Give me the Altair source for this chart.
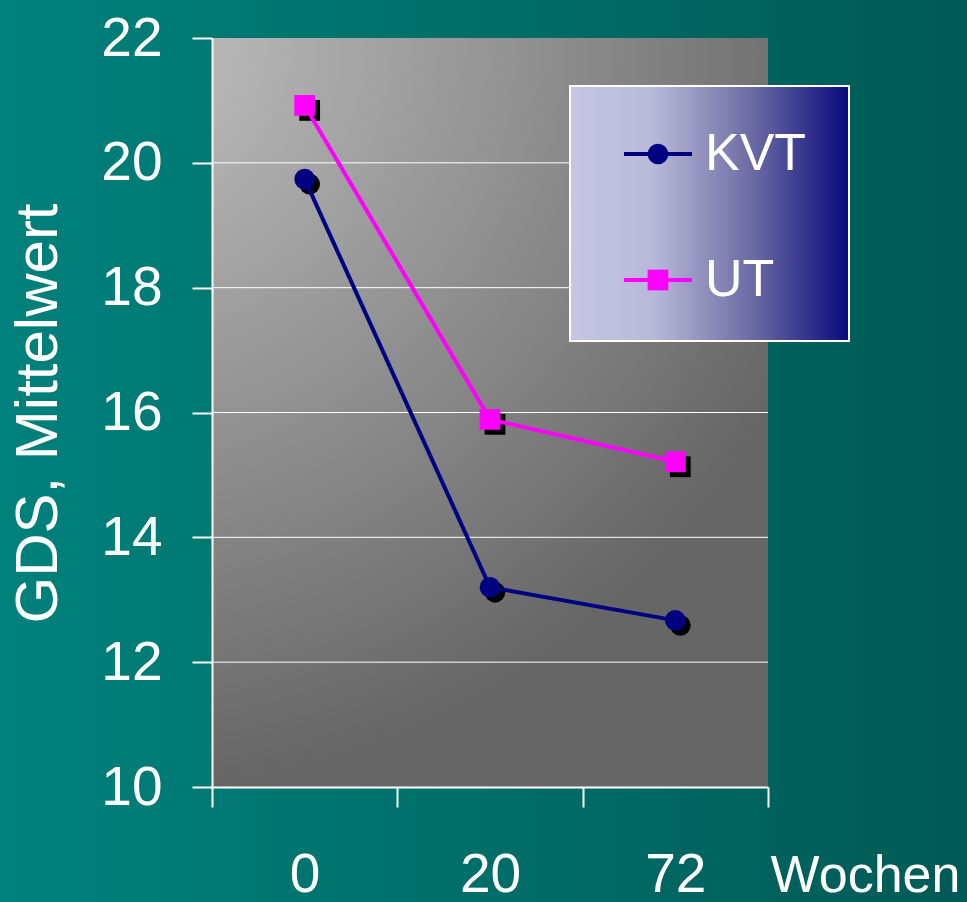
import altair as alt
import pandas as pd

# GDS mean scores per treatment group over time
weeks = ["0", "20", "72"]
series_names = ["KVT", "UT"]
kvt_values = [19.74, 13.20, 12.67]
ut_values = [20.92, 15.89, 15.21]
y_ticks = [10, 12, 14, 16, 18, 20, 22]
grid_values = [12, 14, 16, 18, 20]

series_colors = ["#000080", "#ff00ff"]
series_shapes = ["circle", "square"]
FONT = "Liberation Sans"

W, H = 556, 749
PAD = {"left": 212, "top": 38, "right": 199, "bottom": 115}

rows = []
for name, vals in zip(series_names, [kvt_values, ut_values]):
    for w, v in zip(weeks, vals):
        rows.append({"Woche": w, "Gruppe": name, "GDS": v})
df = pd.DataFrame(rows)
one = pd.DataFrame({"k": [0]})
grid_df = pd.DataFrame({"GDS": grid_values})

x_enc = alt.X(
    "Woche:N",
    sort=weeks,
    scale=alt.Scale(type="band", paddingInner=0, paddingOuter=0),
    axis=alt.Axis(
        title="Wochen",
        titleX=653, titleY=88, titleAlign="center", titleBaseline="middle",
        titleFont=FONT, titleFontSize=52, titleFontWeight="normal", titleColor="white",
        labelAngle=0, labelFont=FONT, labelFontSize=55, labelColor="white",
        labelBaseline="middle", labelPadding=67,
        tickBand="extent", tickSize=20, tickWidth=2, tickColor="white",
        domainColor="white", domainWidth=2, grid=False, zindex=1,
    ),
)
y_axis = alt.Axis(
    values=y_ticks,
    title="GDS, Mittelwert",
    titleX=-174, titleY=375, titleAngle=270, titleAlign="center", titleBaseline="middle",
    titleFont=FONT, titleFontSize=60, titleFontWeight="normal", titleColor="white",
    labelFont=FONT, labelFontSize=55, labelColor="white", labelPadding=30,
    tickSize=20, tickWidth=2, tickColor="white",
    domainColor="white", domainWidth=2, grid=False, zindex=1,
)
y_scale = alt.Scale(domain=[10, 22], nice=False, zero=False)
y_enc = alt.Y("GDS:Q", scale=y_scale, axis=y_axis)

color_scale = alt.Scale(domain=series_names, range=series_colors)
shape_scale = alt.Scale(domain=series_names, range=series_shapes)

# teal backdrop across the whole canvas
backdrop = alt.Chart(one).mark_rect(
    fill=alt.LinearGradient(
        gradient="linear", x1=0, x2=1, y1=0, y2=0,
        stops=[alt.GradientStop(color="#00817c", offset=0),
               alt.GradientStop(color="#005a55", offset=1)],
    )
).encode(
    x=alt.value(-PAD["left"]), x2=alt.value(W + PAD["right"]),
    y=alt.value(-PAD["top"]), y2=alt.value(H + PAD["bottom"]),
)

# grey plot area, light in the upper left corner
plot_bg = alt.Chart(one).mark_rect(
    fill=alt.RadialGradient(
        gradient="radial", x1=0, y1=0, r1=0, x2=0, y2=0, r2=1,
        stops=[alt.GradientStop(color="#c2c2c2", offset=0),
               alt.GradientStop(color="#8c8c8c", offset=0.6),
               alt.GradientStop(color="#666666", offset=1)],
    )
).encode(x=alt.value(0), x2=alt.value(W), y=alt.value(0), y2=alt.value(H))

# horizontal grid lines share the y scale and axis with the data
grid = alt.Chart(grid_df).mark_rule(color="white", strokeWidth=1).encode(
    y=y_enc, x=alt.value(0), x2=alt.value(W),
)

base = alt.Chart(df).encode(x=x_enc, y=y_enc)

shadows = base.mark_point(filled=True, opacity=1, size=430, xOffset=5, yOffset=5, color="black").encode(
    shape=alt.Shape("Gruppe:N", scale=shape_scale, legend=None),
)
lines = base.mark_line(strokeWidth=4).encode(
    color=alt.Color("Gruppe:N", scale=color_scale, legend=None),
    detail="Gruppe:N",
)
points = base.mark_point(filled=True, opacity=1, size=430).encode(
    color=alt.Color("Gruppe:N", scale=color_scale, legend=None),
    shape=alt.Shape("Gruppe:N", scale=shape_scale, legend=None),
)

# legend box drawn by hand
legend_box = alt.Chart(one).mark_rect(
    stroke="white", strokeWidth=2,
    fill=alt.LinearGradient(
        gradient="linear", x1=0, x2=1, y1=0, y2=0,
        stops=[alt.GradientStop(color="#c6c6e4", offset=0),
               alt.GradientStop(color="#b8b8d8", offset=0.3),
               alt.GradientStop(color="#6c6ca4", offset=0.65),
               alt.GradientStop(color="#0a0a7c", offset=1)],
    ),
).encode(x=alt.value(358), x2=alt.value(637), y=alt.value(48), y2=alt.value(303))

legend_layers = [legend_box]
row_y = [116, 242]
for name, color, shape, ly in zip(series_names, series_colors, series_shapes, row_y):
    item = pd.DataFrame({"Gruppe": [name]})
    legend_layers.append(
        alt.Chart(item).mark_rule(color=color, strokeWidth=4).encode(
            x=alt.value(412), x2=alt.value(480), y=alt.value(ly)
        )
    )
    legend_layers.append(
        alt.Chart(item).mark_point(filled=True, opacity=1, size=430, color=color, shape=shape).encode(
            x=alt.value(446), y=alt.value(ly)
        )
    )
    legend_layers.append(
        alt.Chart(item).mark_text(
            font=FONT, fontSize=52, color="white", align="left", baseline="middle"
        ).encode(x=alt.value(493), y=alt.value(ly), text="Gruppe:N")
    )

chart = alt.layer(
    backdrop, plot_bg, grid, shadows, lines, points, *legend_layers
).properties(
    width=W, height=H,
    autosize=alt.AutoSizeParams(type="none"),
    padding=PAD,
    background="#007a76",
).configure_view(strokeWidth=0)

chart.save("out.html", embed_options={"renderer": "svg", "actions": False})
